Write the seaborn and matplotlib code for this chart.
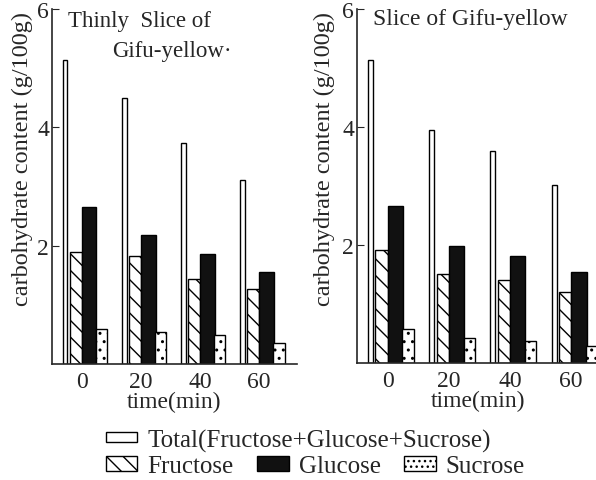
import matplotlib
matplotlib.use("Agg")
import matplotlib.pyplot as plt
import seaborn as sns
from matplotlib.patches import Patch

times = ["0", "20", "40", "60"]

# left panel: thinly slice of Gifu-yellow
thin_total = [5.13, 4.50, 3.74, 3.11]
thin_fructose = [1.90, 1.82, 1.43, 1.26]
thin_glucose = [2.65, 2.18, 1.86, 1.55]
thin_sucrose = [0.59, 0.54, 0.49, 0.35]

# right panel: slice of Gifu-yellow
slice_total = [5.14, 3.95, 3.59, 3.02]
slice_fructose = [1.92, 1.51, 1.40, 1.21]
slice_glucose = [2.66, 1.99, 1.82, 1.55]
slice_sucrose = [0.57, 0.43, 0.37, 0.28]

sns.set_style("ticks")
plt.rcParams["font.family"] = ["Liberation Serif", "DejaVu Serif"]
plt.rcParams["hatch.linewidth"] = 1.0

fig = plt.figure(figsize=(5.96, 4.81), dpi=100)
ax1 = fig.add_axes([52 / 596, 1 - 365 / 481, 245 / 596, 355 / 481])
ax2 = fig.add_axes([357 / 596, 1 - 364 / 481, 243 / 596, 354 / 481])

# (offset from tick, width, face, hatch)
styles = [
    (-0.28, 0.08, "white", None),
    (-0.10, 0.20, "white", "\\\\"),
    (0.125, 0.25, "#111111", None),
    (0.335, 0.19, "white", ".."),
]


def draw_panel(ax, series, xmax, label_x):
    for vals, (off, w, face, hatch) in zip(series, styles):
        xs = [i + off for i in range(len(times))]
        sns.barplot(x=xs, y=vals, native_scale=True, width=w, color=face,
                    edgecolor="black", linewidth=1.0, hatch=hatch,
                    saturation=1, errorbar=None, ax=ax)
    ax.set_xlim(-0.5, xmax)
    ax.set_ylim(0, 6)
    ax.set_xticks(range(len(times)), times, fontsize=17)
    ax.set_yticks([2, 4, 6], ["2", "4", "6"], fontsize=17)
    ax.tick_params(axis="x", length=0, pad=5)
    ax.tick_params(axis="y", length=5, direction="in", pad=2)
    ax.set_xlabel("time(min)", fontsize=17, labelpad=-1)
    ax.set_ylabel("carbohydrate content (g/100g)", fontsize=17.5)
    ax.yaxis.set_label_coords(label_x, 0.58)
    sns.despine(ax=ax)
    for sp in ax.spines.values():
        sp.set_linewidth(1.2)


draw_panel(ax1, [thin_total, thin_fructose, thin_glucose, thin_sucrose],
           3.64, -0.078)
draw_panel(ax2, [slice_total, slice_fructose, slice_glucose, slice_sucrose],
           3.47, -0.09)

ax1.text(0.065, 0.997, "Thinly  Slice of", transform=ax1.transAxes,
         fontsize=16.5, va="top", ha="left")
ax1.text(0.245, 0.912, "Gifu-yellow·", transform=ax1.transAxes,
         fontsize=16.5, va="top", ha="left")
ax2.text(0.066, 1.003, "Slice of Gifu-yellow", transform=ax2.transAxes,
         fontsize=17, va="top", ha="left")

h_total = [Patch(facecolor="white", edgecolor="black",
                 label="Total(Fructose+Glucose+Sucrose)")]
fig.legend(handles=h_total, loc="center left", frameon=False,
           bbox_to_anchor=(106 / 596, 1 - 441 / 481), fontsize=18,
           handlelength=1.25, handleheight=0.2, handletextpad=0.4,
           borderpad=0, borderaxespad=0)

h_sugars = [
    Patch(facecolor="white", edgecolor="black", hatch="\\\\", label="Fructose"),
    Patch(facecolor="#111111", edgecolor="black", label="Glucose"),
    Patch(facecolor="white", edgecolor="black", hatch="...", label="Sucrose"),
]
fig.legend(handles=h_sugars, loc="center left", frameon=False, ncol=3,
           bbox_to_anchor=(106 / 596, 1 - 467 / 481), fontsize=18,
           handlelength=1.25, handleheight=0.55, handletextpad=0.4,
           columnspacing=0.95, borderpad=0, borderaxespad=0)

fig.savefig("out.png", dpi=100)
